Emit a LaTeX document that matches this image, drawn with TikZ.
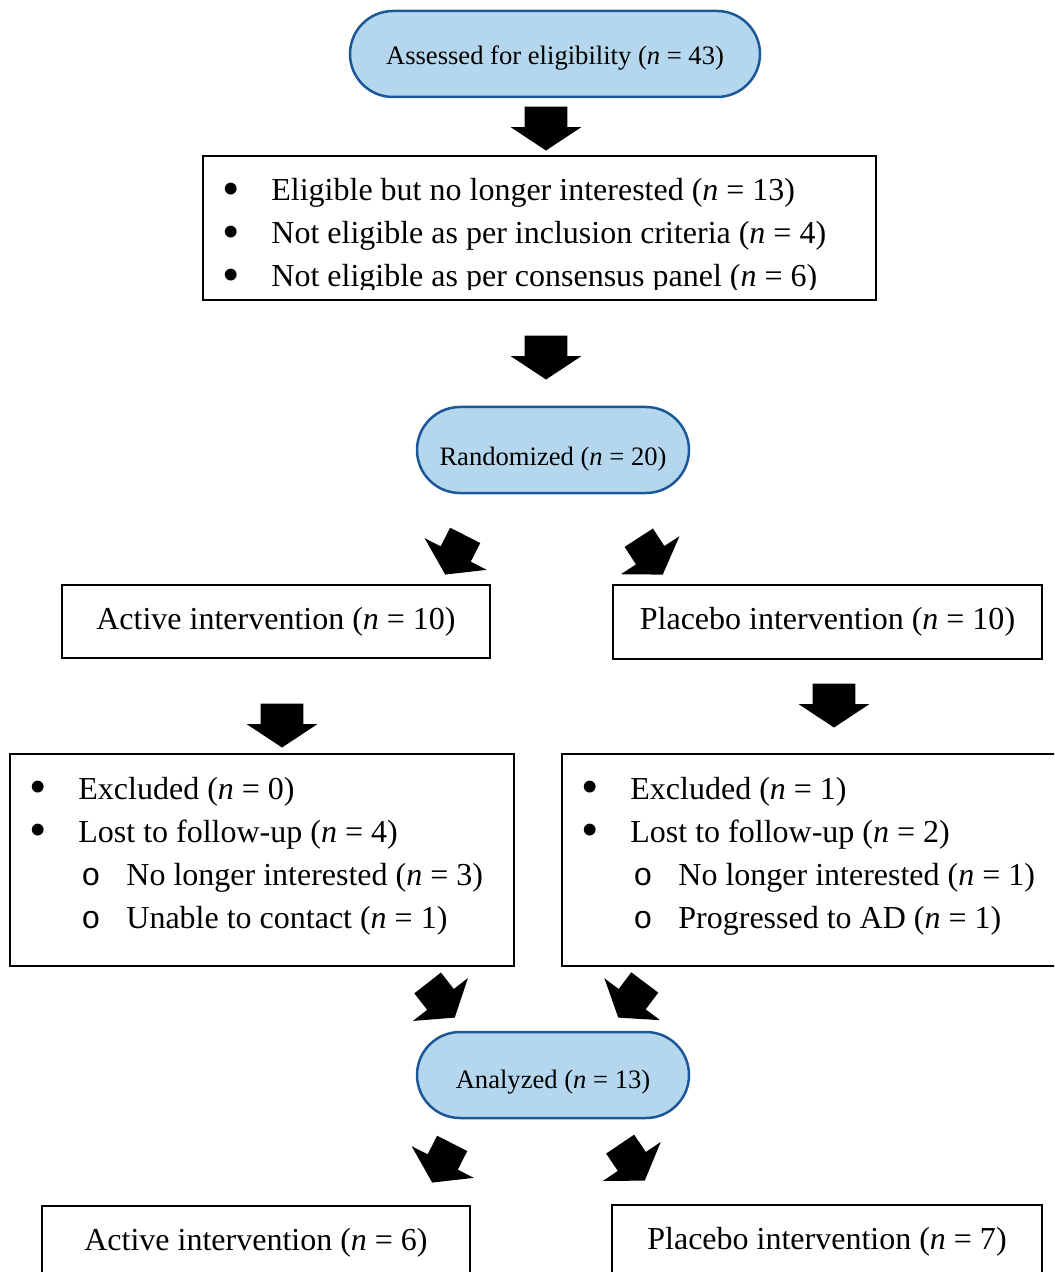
\documentclass[tikz,border=0pt]{standalone}
\usepackage{fontspec}
\setmainfont{Liberation Serif}
\newfontfamily\ringfont{Liberation Mono}
\usetikzlibrary{shapes.arrows}
\definecolor{capfill}{RGB}{181,215,238}
\definecolor{capline}{RGB}{28,88,152}
\tikzset{capsule/.style={draw=capline, fill=capfill, line width=1.25pt,
        rounded corners=21.5pt, minimum height=43pt, inner sep=0pt,
        text depth=0pt, font=\fontsize{13.3}{16}\selectfont},
    plainbox/.style={draw, line width=0.75pt, inner sep=0pt,
        font=\fontsize{16}{21.5}\selectfont},
    listtext/.style={anchor=base west, inner sep=0pt,
        font=\fontsize{16}{21.5}\selectfont},
    bigarrow/.style={single arrow, fill=black, inner xsep=0pt, inner ysep=10.5pt,
        minimum height=22pt, single arrow head extend=7pt, single arrow tip angle=113,
        anchor=tip},
    tiltarrow/.style={bigarrow, inner ysep=8.25pt, single arrow head extend=9pt},
    }
\newcommand{\bul}{\makebox[23pt][l]{\hspace{-1.3pt}\smash{\raisebox{-2.2pt}{\scalebox{1.55}{\textbullet}}}}}
\newcommand{\subbul}{\hspace{24.5pt}\makebox[22.5pt][l]{\ringfont o}}
\newcommand{\nn}{\textit{n}}

\begin{document}
\begin{tikzpicture}[x=0.5pt,y=-0.5pt]
	\useasboundingbox (0,0) rectangle (1054,1272);
	\clip (0,0) rectangle (1054,1272);
	% screening
	\node[capsule, minimum width=205pt, text height=11pt] (assess) at (555,54) {Assessed for eligibility (\nn{} = 43)};
	\node[bigarrow, rotate=-90] (arrA) at (546,151) {};
	\node[plainbox, minimum width=336.5pt, minimum height=72pt] (screen) at (539.5,228) {};
	\begin{scope}
	\clip (screen.north west) rectangle (876,290);
	\node[listtext] (screenlist) at (225,201) {\begin{tabular}[t]{@{}l@{}}
		\bul Eligible but no longer interested (\nn{} = 13)\\
		\bul Not eligible as per inclusion criteria (\nn{} = 4)\\
		\bul Not eligible as per consensus panel (\nn{} = 6)
		\end{tabular}};
	\end{scope}
	\node[bigarrow, rotate=-90] (arrB) at (546,380) {};
	\node[capsule, minimum width=136pt, text height=15pt] (rand) at (553,450) {Randomized (\nn{} = 20)};
	% allocation
	\node[tiltarrow, rotate=-117] (arrCL) at (445,575) {};
	\node[tiltarrow, rotate=-57] (arrCR) at (663,575) {};
	\node[plainbox, minimum width=214pt, minimum height=36.5pt] (active) at (276,621.5) {Active intervention (\nn{} = 10)};
	\node[plainbox, minimum width=214.5pt, minimum height=37pt] (placebo) at (827.5,622) {Placebo intervention (\nn{} = 10)};
	\node[bigarrow, rotate=-90] (arrDL) at (282,748) {};
	\node[bigarrow, rotate=-90] (arrDR) at (834,728) {};
	% follow-up
	\node[plainbox, minimum width=252pt, minimum height=106pt] (lostA) at (262,860) {};
	\node[listtext] (lostAlist) at (32,799) {\begin{tabular}[t]{@{}l@{}}
		\bul Excluded (\nn{} = 0)\\
		\bul Lost to follow-up (\nn{} = 4)\\
		\subbul No longer interested (\nn{} = 3)\\
		\subbul Unable to contact (\nn{} = 1)
		\end{tabular}};
	\node[plainbox, minimum width=250pt, minimum height=106pt] (lostP) at (812,860) {};
	\node[listtext] (lostPlist) at (584,799) {\begin{tabular}[t]{@{}l@{}}
		\bul Excluded (\nn{} = 1)\\
		\bul Lost to follow-up (\nn{} = 2)\\
		\subbul No longer interested (\nn{} = 1)\\
		\subbul Progressed to AD (\nn{} = 1)
		\end{tabular}};
	% analysis
	\node[tiltarrow, rotate=-52] (arrEL) at (455,1018) {};
	\node[tiltarrow, rotate=-127] (arrER) at (618,1018) {};
	\node[capsule, minimum width=136pt, text height=13pt] (analyzed) at (553,1075) {Analyzed (\nn{} = 13)};
	\node[tiltarrow, rotate=-117] (arrFL) at (432,1183) {};
	\node[tiltarrow, rotate=-56] (arrFR) at (645,1181) {};
	\node[plainbox, minimum width=214pt, minimum height=36.5pt] (active2) at (256,1242.5) {Active intervention (\nn{} = 6)};
	\node[plainbox, minimum width=215pt, minimum height=36.5pt] (placebo2) at (827,1241.5) {Placebo intervention (\nn{} = 7)};
\end{tikzpicture}
\end{document}
